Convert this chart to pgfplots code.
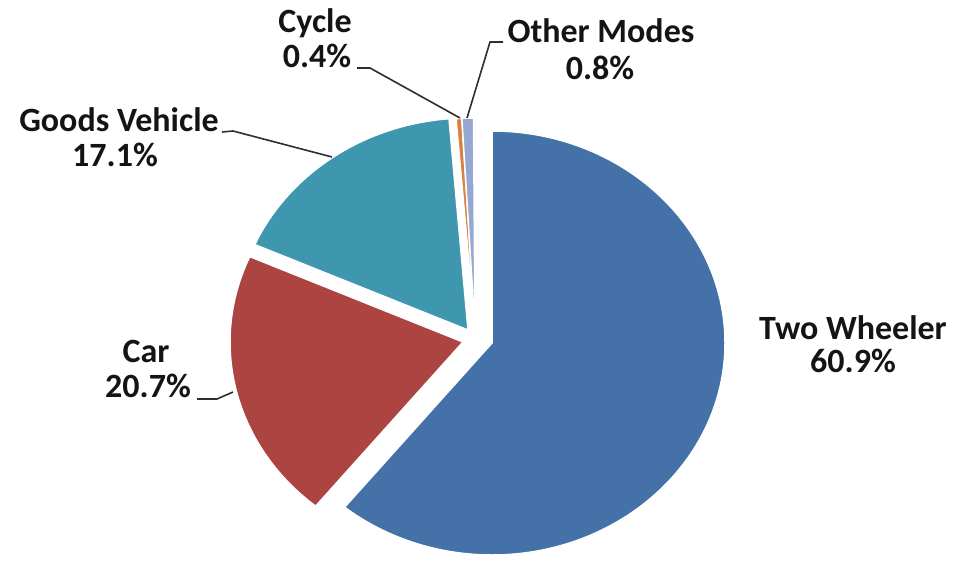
\documentclass[border=0pt]{standalone}
\usepackage{pgfplots}
\pgfplotsset{compat=1.18}
\usepackage{fontspec}
\setmainfont{Carlito}
\definecolor{cTW}{HTML}{4471A8}
\definecolor{cCar}{HTML}{AC4442}
\definecolor{cGV}{HTML}{3F97AF}
\definecolor{cCy}{HTML}{D9823F}
\definecolor{cOt}{HTML}{96A8D2}
\definecolor{lead}{HTML}{2E2E2E}
% shares in percent
\def\vTW{60.9}\def\vCar{20.7}\def\vGV{17.1}\def\vCy{0.4}\def\vOt{0.8}
\pgfmathsetmacro\aA{90}
\pgfmathsetmacro\aB{\aA-3.6*\vTW}
\pgfmathsetmacro\aC{\aB-3.6*\vCar}
\pgfmathsetmacro\aD{\aC-3.6*\vGV}
\pgfmathsetmacro\aE{\aD-3.6*\vCy}
\pgfmathsetmacro\aF{\aE-3.6*\vOt}
\newcommand\pieslice[5]{% color, cx, cy, start, end
  \fill[#1, draw=white, line width=1.5pt, line join=miter] (axis cs:#2,#3) -- ++(#4:233pt and 212pt)
    arc[start angle=#4, end angle=#5, x radius=233pt, y radius=212pt] -- cycle;}
\begin{document}
\begin{tikzpicture}
\begin{axis}[at={(0,0)}, anchor=south west, scale only axis, width=957pt, height=560pt,
  xmin=0, xmax=957, ymin=0, ymax=560, hide axis, clip=false]
\pieslice{cTW}{492}{217}{\aA}{\aB}
\pieslice{cCar}{463}{218}{\aB}{\aC}
\pieslice{cGV}{468}{230}{\aC}{\aD}
\pieslice{cCy}{475}{230}{\aD}{\aE}
\pieslice{cOt}{475}{230}{\aE}{\aF}
\begin{scope}[every node/.style={anchor=base, inner sep=0pt, text=black!92, font=\fontsize{34}{35}\selectfont\bfseries}]
\node at (axis cs:853,221) {Two Wheeler};
\node at (axis cs:853,188) {\vTW\%};
\node at (axis cs:146,198) {Car};
\node at (axis cs:148,163) {\vCar\%};
\node at (axis cs:119,428) {Goods Vehicle};
\node at (axis cs:115,393) {\vGV\%};
\node at (axis cs:315,527) {Cycle};
\node at (axis cs:317,492) {\vCy\%};
\node at (axis cs:601,517) {Other Modes};
\node at (axis cs:600,480) {\vOt\%};
\end{scope}
\draw[lead, line width=1.6pt] (axis cs:222,428) -- (axis cs:233,429) -- (axis cs:332,403);
\draw[lead, line width=1.6pt] (axis cs:197,161) -- (axis cs:217,161) -- (axis cs:233,168);
\draw[lead, line width=1.6pt] (axis cs:357,492) -- (axis cs:370,492) -- (axis cs:460,442);
\draw[lead, line width=1.6pt] (axis cs:503,518) -- (axis cs:490,518) -- (axis cs:467,442);
\end{axis}
\path (0,0) rectangle (957pt,560pt);
\end{tikzpicture}
\end{document}
